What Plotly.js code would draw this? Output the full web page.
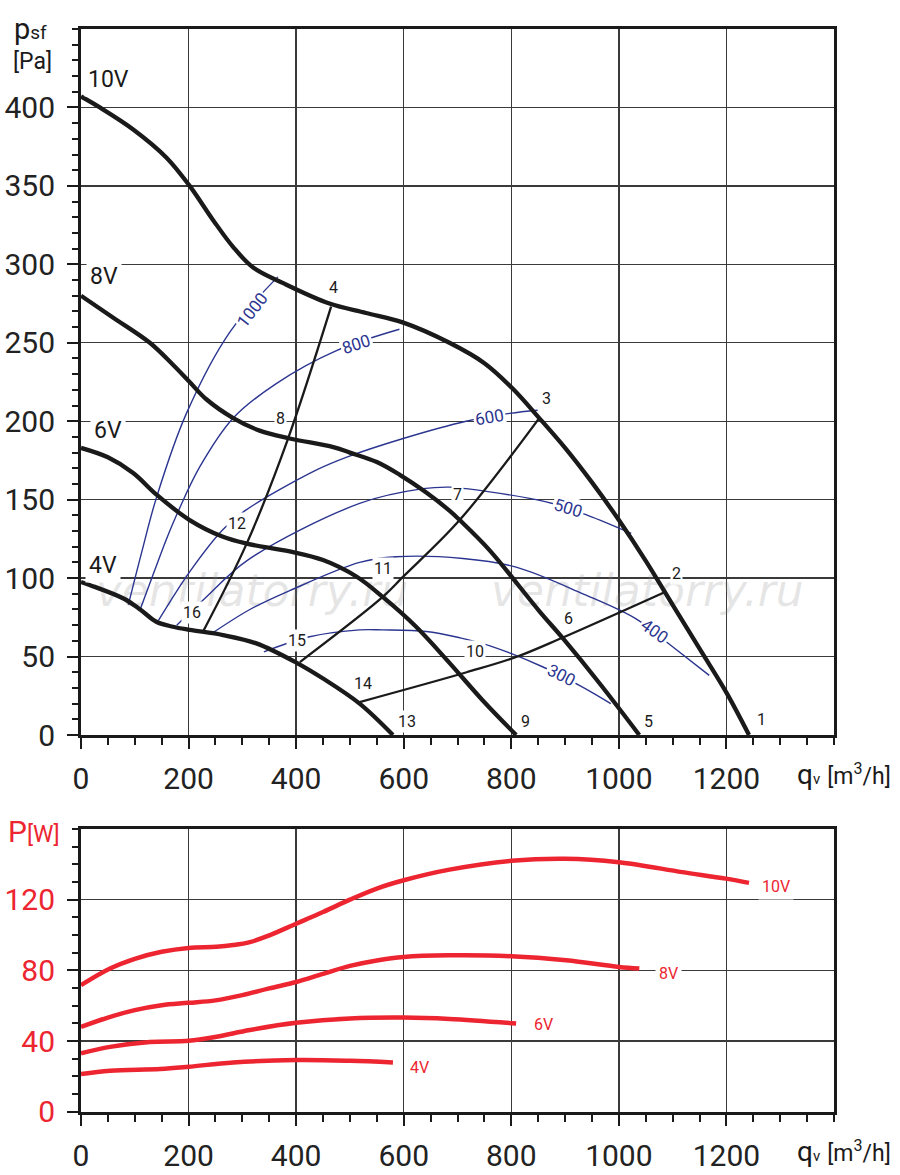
<!DOCTYPE html>
<html>
<head>
<meta charset="utf-8">
<script src="https://cdn.plot.ly/plotly-3.0.1.min.js"></script>
<style>html,body{margin:0;padding:0;background:#fff;}#chart{width:900px;height:1175px;}</style>
</head>
<body>
<div id="chart"></div>
<script>
// ---------- top chart: static pressure vs air flow ----------
const q10V = [0, 35, 97, 159, 202, 246, 283, 320, 376, 462, 530, 598, 685, 750, 802, 852, 900, 950, 1000, 1050, 1100, 1150, 1200, 1242];
const p10V = [407, 400, 386, 368, 350, 328, 311, 298, 288, 275, 269, 263, 250, 237, 221, 202, 183, 161, 137, 111, 83, 55, 27, 0];
const q8V = [0, 60, 128, 171, 202, 233, 283, 332, 388, 469, 500, 550, 592, 640, 685, 704, 759, 852, 895, 964, 1038];
const p8V = [280, 266, 250, 236, 225, 214, 202, 194, 189, 183.5, 180, 174, 166, 155, 143, 137, 118, 79, 62, 33, 0];
const q6V = [0, 50, 97, 141, 202, 264, 308, 388, 450, 512, 561, 623, 685, 747, 809];
const p6V = [183, 177, 167, 153, 137, 126.3, 122, 117, 111.5, 101, 88, 69, 46, 22, 0];
const q4V = [0, 17, 79, 110, 140, 171, 202, 264, 326, 401, 450, 518, 580];
const p4V = [97.5, 95.5, 87, 80, 72.2, 69, 67, 63.7, 58.4, 46, 36, 20, 0];

// system (duct) curves
const qSysA = [227, 308, 384, 465];          // 16-12-8-4
const pSysA = [66, 122, 188, 273];
const qSysB = [407, 561, 598, 704, 852];     // 15-11-7-3
const pSysB = [46.5, 88, 100.6, 137, 202];
const qSysC = [518, 717, 809, 895, 1085];    // 14-10-6-2
const pSysC = [21, 40, 49.7, 62, 91];

// blue iso-lines
const qIso1000 = [88, 114, 140, 196, 277, 366];
const pIso1000 = [83, 118, 151, 205, 257, 292];
const qIso800 = [110, 137, 159, 180, 221, 283, 363, 475, 592];
const pIso800 = [80, 105, 125, 142, 171, 202, 224, 245, 258.6];
const qIso600 = [144, 202, 264, 305, 438, 493, 599, 716, 797, 849];
const pIso600 = [73, 104, 131, 143, 169, 177, 189, 200, 205, 207];
const qIso500 = [178, 230, 310, 518, 636, 685, 716, 865, 942, 1023];
const pIso500 = [70, 87, 111.5, 147.6, 157, 158, 157, 148.6, 140, 128.5];
const qIso400 = [240, 314, 388, 518, 586, 710, 809, 933, 1032, 1097, 1168];
const pIso400 = [64, 80, 92, 110, 113.6, 112.5, 107, 90, 74, 57, 38];
const qIso300 = [340, 425, 518, 561, 642, 704, 759, 858, 930, 985];
const pIso300 = [53, 62.6, 67, 67, 66, 62, 57, 43.5, 31, 20];

// ---------- bottom chart: power vs air flow ----------
const qP10V = [0, 54, 100, 150, 200, 252, 283, 314, 345, 400, 450, 500, 550, 600, 685, 800, 900, 1000, 1118, 1199, 1242];
const pP10V = [71.6, 81, 86.5, 90.5, 92.7, 93.3, 94.3, 96, 99.2, 106.4, 113, 120, 126.3, 131, 137, 142, 143.2, 141.2, 135.6, 131.9, 129.5];
const qP8V = [0, 50, 100, 150, 200, 250, 300, 350, 400, 450, 500, 550, 600, 685, 800, 902, 1000, 1038];
const pP8V = [48, 53.3, 57.5, 60.3, 61.6, 63, 66, 69.8, 73.4, 78, 82.5, 85.6, 87.6, 88.5, 88, 85.7, 81.9, 81];
const qP6V = [0, 54, 128, 200, 252, 314, 400, 500, 600, 685, 809];
const pP6V = [33, 36.7, 39.5, 40.1, 42.4, 46.2, 50.3, 52.8, 53.3, 52.5, 49.9];
const qP4V = [0, 54, 147, 200, 283, 400, 500, 580];
const pP4V = [21.3, 23.2, 24.1, 25.4, 27.9, 29.2, 28.8, 27.9];

// tick values
const xTicks = [0, 200, 400, 600, 800, 1000, 1200];
const yTicksTop = [0, 50, 100, 150, 200, 250, 300, 350, 400];
const yTicksBot = [0, 40, 80, 120];

// labels
const voltLabels = ['10V', '8V', '6V', '4V'];
const voltLabelQ = [52, 43, 50, 41];
const voltLabelP = [418, 292, 194, 108];
const pointLabels = ['1','2','3','4','5','6','7','8','9','10','11','12','13','14','15','16'];
const pointLabelQ = [1266, 1107, 865, 470, 1055, 906, 700, 371, 826, 732, 561, 290, 607, 524, 401, 206];
const pointLabelP = [9.6, 103, 214.6, 285, 8.9, 74, 153, 202, 8.9, 53, 106, 135, 8.9, 33, 60, 78];
const isoLabels = ['1000', '800', '600', '500', '400', '300'];
const isoLabelQ = [318, 512, 760, 906, 1066, 893];
const isoLabelP = [271, 249, 203, 145, 66, 38];
const isoLabelAngle = [-52, -18, -10, 17, 36, 27];
const powerLabels = ['10V', '8V', '6V', '4V'];
const powerLabelQ = [1292, 1092, 860, 630];
const powerLabelP = [127.5, 78.3, 49.5, 25.2];
const watermarkText = 'ventilatorry.ru';
const watermarkQ = [318, 1053];
const watermarkP = [89, 89];

const BLACK = '#1a1a1a', BLUE = '#2b3590', RED = '#ec2530', GRID = '#3a3a3a';
const FONT = 'Roboto, "DejaVu Sans", sans-serif';

function line(x, y, color, width, xa, ya) {
  return {x: x, y: y, type: 'scatter', mode: 'lines', xaxis: xa, yaxis: ya,
          line: {color: color, width: width, shape: 'spline', smoothing: 1}, hoverinfo: 'skip'};
}

const traces = [
  {x: watermarkQ, y: watermarkP, type: 'scatter', mode: 'text', text: [watermarkText, watermarkText],
   textfont: {family: '"DejaVu Sans", sans-serif', size: 44, style: 'italic', color: 'rgba(140,140,140,0.22)'},
   xaxis: 'x', yaxis: 'y', hoverinfo: 'skip'},
  line(qIso1000, pIso1000, BLUE, 1.4, 'x', 'y'),
  line(qIso800, pIso800, BLUE, 1.4, 'x', 'y'),
  line(qIso600, pIso600, BLUE, 1.4, 'x', 'y'),
  line(qIso500, pIso500, BLUE, 1.4, 'x', 'y'),
  line(qIso400, pIso400, BLUE, 1.4, 'x', 'y'),
  line(qIso300, pIso300, BLUE, 1.4, 'x', 'y'),
  line(qSysA, pSysA, BLACK, 2.3, 'x', 'y'),
  line(qSysB, pSysB, BLACK, 2.3, 'x', 'y'),
  line(qSysC, pSysC, BLACK, 2.3, 'x', 'y'),
  line(q10V, p10V, BLACK, 4.3, 'x', 'y'),
  line(q8V, p8V, BLACK, 4.3, 'x', 'y'),
  line(q6V, p6V, BLACK, 4.3, 'x', 'y'),
  line(q4V, p4V, BLACK, 4.3, 'x', 'y'),
  line(qP10V, pP10V, RED, 4.5, 'x2', 'y2'),
  line(qP8V, pP8V, RED, 4.5, 'x2', 'y2'),
  line(qP6V, pP6V, RED, 4.5, 'x2', 'y2'),
  line(qP4V, pP4V, RED, 4.5, 'x2', 'y2')
];

const annotations = [];
voltLabels.forEach((t, i) => annotations.push({x: voltLabelQ[i], y: voltLabelP[i], xref: 'x', yref: 'y', text: t,
  showarrow: false, font: {family: FONT, size: 23, color: BLACK}, bgcolor: '#fff', borderpad: 3}));
pointLabels.forEach((t, i) => annotations.push({x: pointLabelQ[i], y: pointLabelP[i], xref: 'x', yref: 'y', text: t,
  showarrow: false, font: {family: FONT, size: 16, color: BLACK}, bgcolor: '#fff', borderpad: 1}));
isoLabels.forEach((t, i) => annotations.push({x: isoLabelQ[i], y: isoLabelP[i], xref: 'x', yref: 'y', text: t,
  textangle: isoLabelAngle[i], showarrow: false, font: {family: FONT, size: 17, color: BLUE}, bgcolor: '#fff', borderpad: 1}));
powerLabels.forEach((t, i) => annotations.push({x: powerLabelQ[i], y: powerLabelP[i], xref: 'x2', yref: 'y2', text: t,
  showarrow: false, font: {family: FONT, size: 16, color: RED}, bgcolor: '#fff', borderpad: 3}));

// axis titles
annotations.push({xref: 'paper', yref: 'paper', x: 12/900, y: 1 - 29/1175, xanchor: 'left', yanchor: 'middle',
  text: 'p<span style="font-size:19px">sf</span>', showarrow: false, font: {family: FONT, size: 29, color: BLACK}});
annotations.push({xref: 'paper', yref: 'paper', x: 11/900, y: 1 - 61/1175, xanchor: 'left', yanchor: 'middle',
  text: '[Pa]', showarrow: false, font: {family: FONT, size: 23, color: BLACK}});
[774, 1151].forEach(yc => {
  annotations.push({xref: 'paper', yref: 'paper', x: 795/900, y: 1 - yc/1175, xanchor: 'left', yanchor: 'middle',
    text: 'q<span style="font-size:15px">v</span> <span style="font-size:23px">[m<sup>3</sup>/h]</span>',
    showarrow: false, font: {family: FONT, size: 28, color: BLACK}});
});
annotations.push({xref: 'paper', yref: 'paper', x: 6/900, y: 1 - 831/1175, xanchor: 'left', yanchor: 'middle',
  text: 'P<span style="font-size:23px">[W]</span>', showarrow: false, font: {family: FONT, size: 30, color: RED}});

function xAxis(anchor) {
  return {domain: [81/900, 834/900], range: [0, 1400], anchor: anchor, tickmode: 'array', tickvals: xTicks,
    showgrid: true, gridcolor: GRID, gridwidth: 1.4, zeroline: false,
    showline: true, linecolor: BLACK, linewidth: 3, mirror: true,
    ticks: 'outside', ticklen: 11, tickwidth: 2, tickcolor: BLACK, ticklabelstandoff: 4,
    tickfont: {family: FONT, size: 30, color: '#222'},
    minor: {tickmode: 'linear', tick0: 0, dtick: 50, ticks: 'outside', ticklen: 7, tickwidth: 2, tickcolor: BLACK, showgrid: false},
    fixedrange: true};
}
function yAxis(anchor, dom, range, vals, color) {
  return {domain: dom, range: range, anchor: anchor, tickmode: 'array', tickvals: vals,
    showgrid: true, gridcolor: GRID, gridwidth: 1.4, zeroline: false,
    showline: true, linecolor: BLACK, linewidth: 3, mirror: true,
    ticks: 'outside', ticklen: 11, tickwidth: 2, tickcolor: BLACK, ticklabelstandoff: 6,
    tickfont: {family: FONT, size: 30, color: color},
    minor: {tickmode: 'linear', tick0: 0, dtick: 10, ticks: 'outside', ticklen: 6, tickwidth: 2, tickcolor: BLACK, showgrid: false},
    fixedrange: true};
}

const layout = {
  width: 900, height: 1175, margin: {l: 0, r: 0, t: 0, b: 0},
  paper_bgcolor: '#fff', plot_bgcolor: '#fff', showlegend: false,
  xaxis: xAxis('y'),
  yaxis: yAxis('x', [1 - 735/1175, 1 - 29/1175], [0, 450], yTicksTop, '#222'),
  xaxis2: xAxis('y2'),
  yaxis2: yAxis('x2', [1 - 1111.7/1175, 1 - 829/1175], [0, 160], yTicksBot, RED),
  annotations: annotations
};

Plotly.newPlot('chart', traces, layout, {staticPlot: true, displayModeBar: false});
</script>
</body>
</html>
